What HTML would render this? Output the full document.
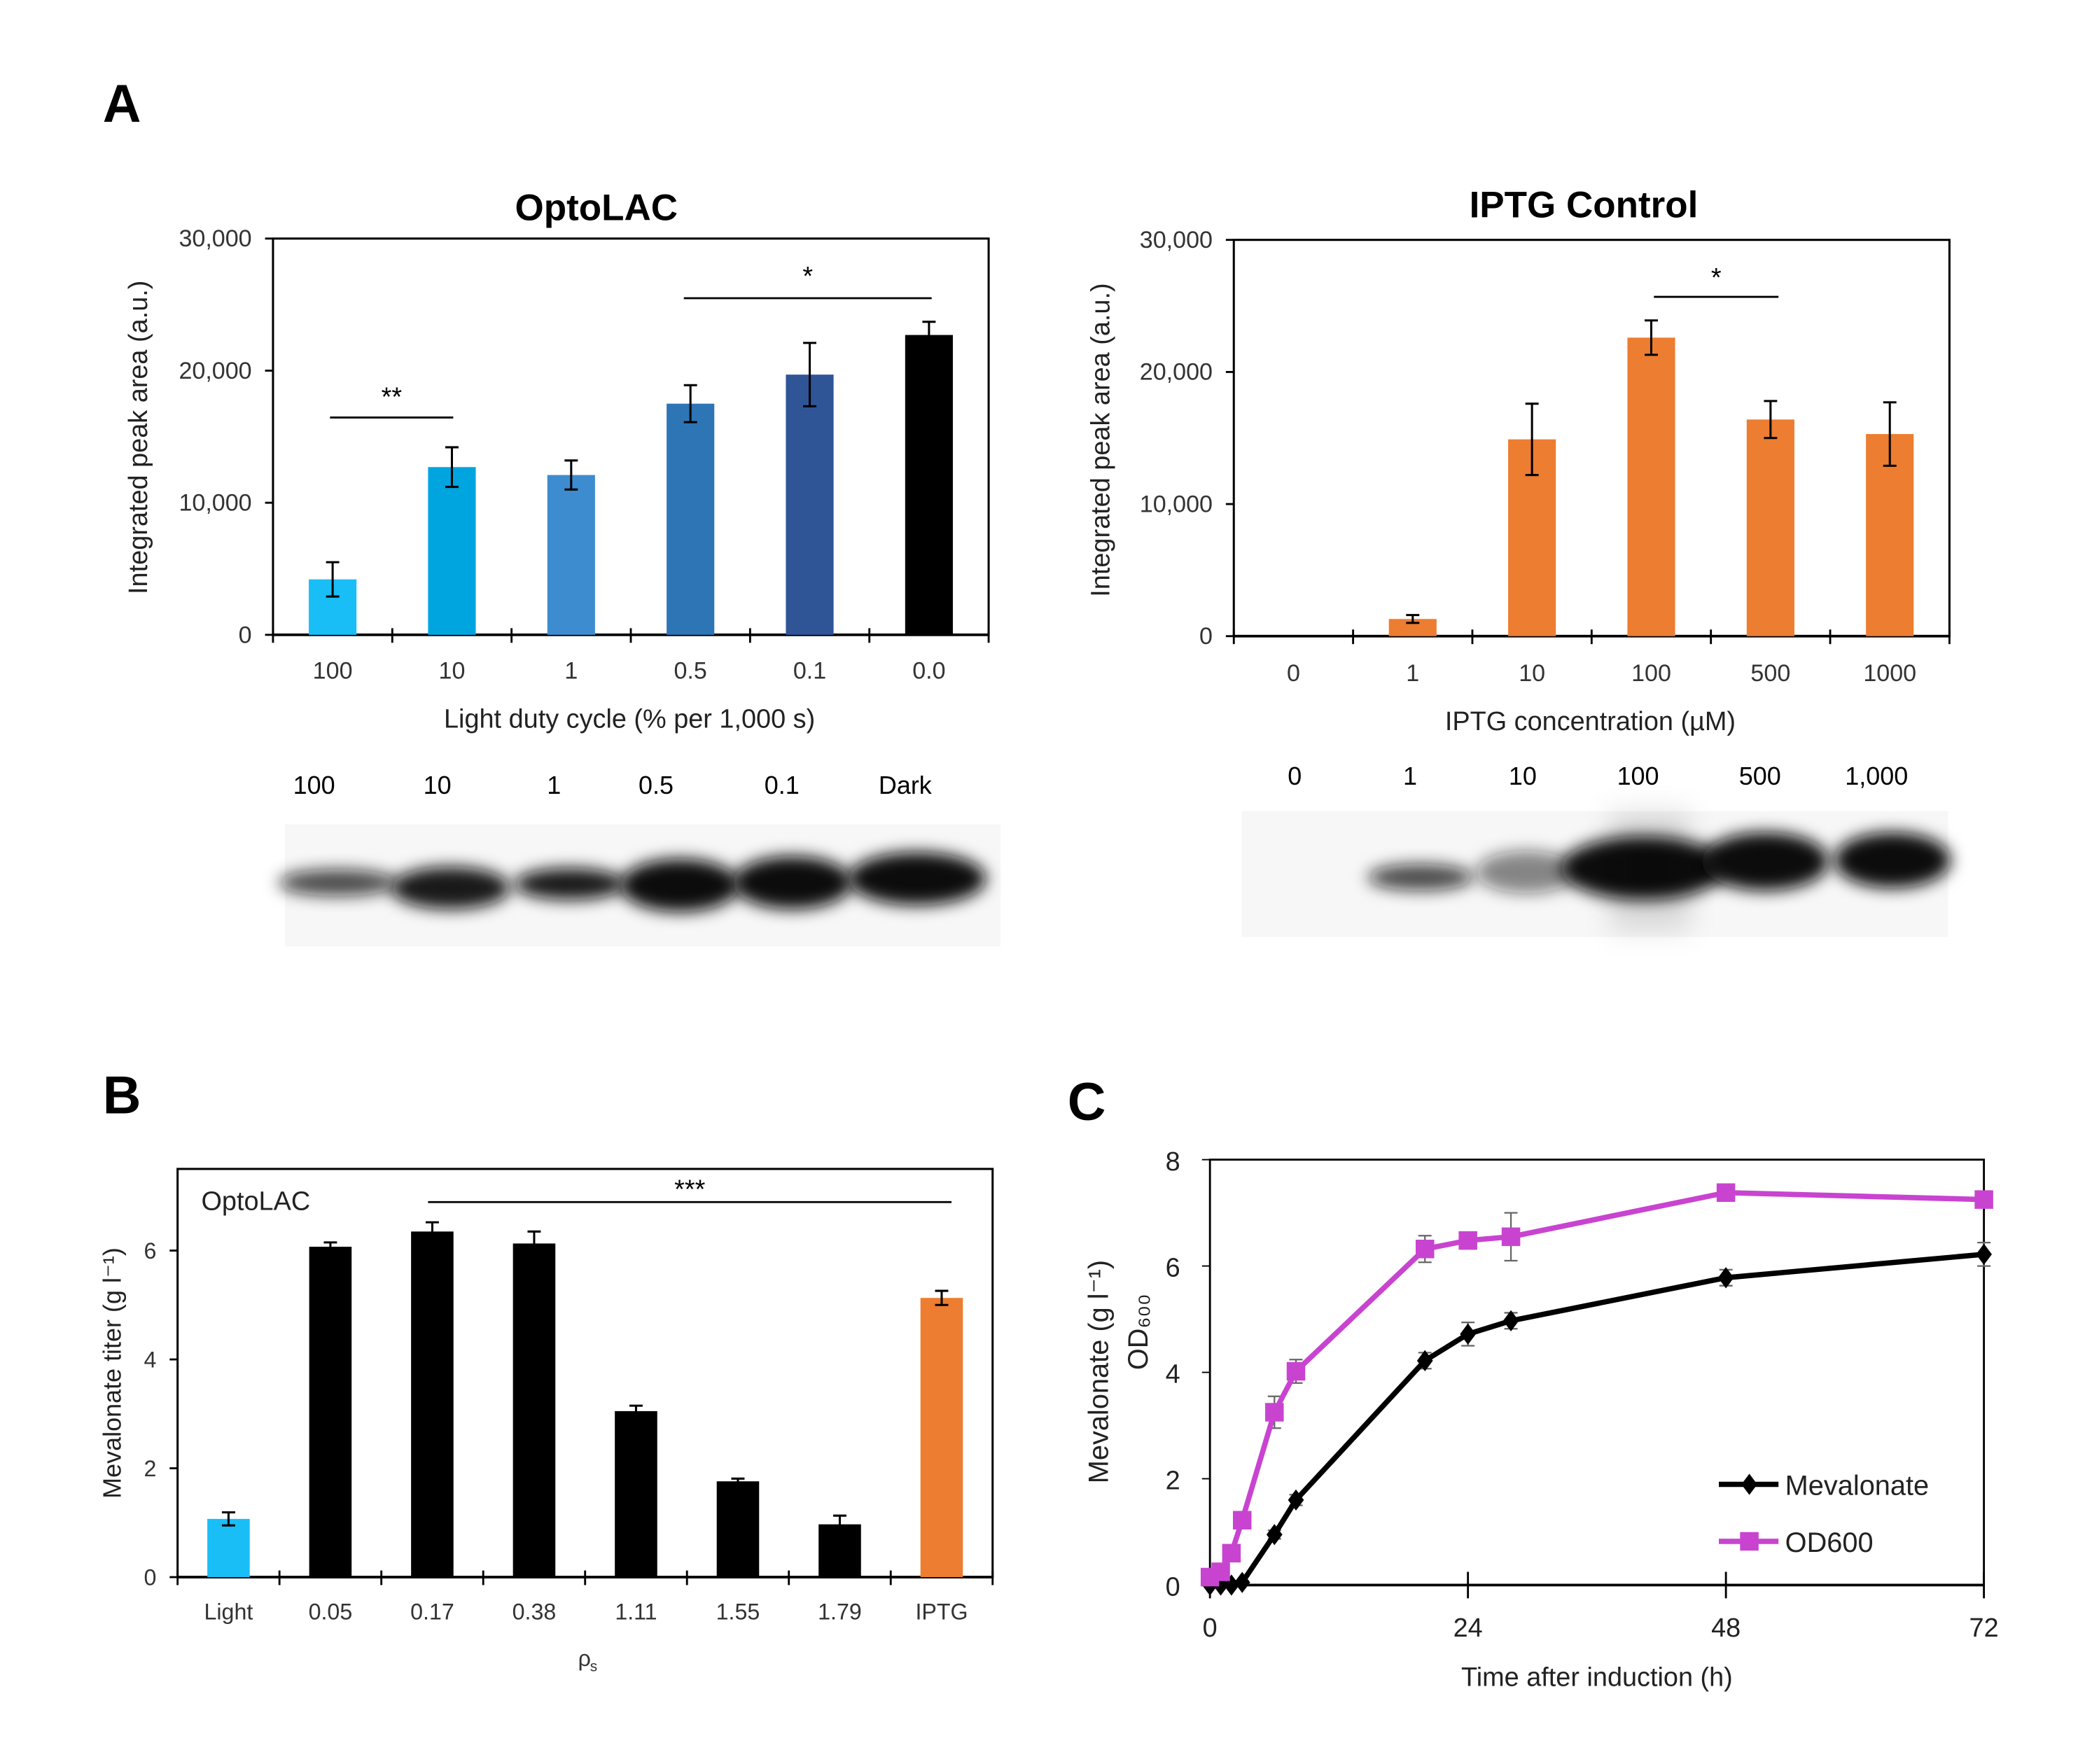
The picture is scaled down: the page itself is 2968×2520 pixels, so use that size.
<!DOCTYPE html>
<html><head><meta charset="utf-8"><style>
html,body{margin:0;padding:0;background:#fff;}
svg{display:block;font-family:"Liberation Sans",sans-serif;}
</style></head><body>
<svg id="fig" width="2968" height="2520" viewBox="0 0 1568 1331" preserveAspectRatio="none">
<defs>
<filter id="blur" x="-30%" y="-60%" width="160%" height="220%"><feGaussianBlur stdDeviation="6"/></filter>
<filter id="blur2" x="-30%" y="-60%" width="160%" height="220%"><feGaussianBlur stdDeviation="10"/></filter>
</defs>
<text x="92" y="92" font-size="40" font-weight="bold" text-anchor="middle">A</text>
<text x="92" y="840" font-size="40" font-weight="bold" text-anchor="middle">B</text>
<text x="820" y="845" font-size="40" font-weight="bold" text-anchor="middle">C</text>
<g id="optolac"></g>
<g id="iptg"></g>
<g id="blots"></g>
<g id="chartB"></g>
<g id="chartC"></g>
</svg>
<script>
// Panel A - OptoLAC
const optoCats = ["100","10","1","0.5","0.1","0.0"];
const optoVals = [4200,12700,12100,17500,19700,22700];
const optoErr = [1300,1500,1100,1400,2400,1000];
const optoColors = ["#1ABEF6","#00A5E0","#3E8CD0","#2E75B6","#2F5597","#000000"];
const areaTicks = [0,10000,20000,30000];
const areaTickLabels = ["0","10,000","20,000","30,000"];
// Panel A - IPTG
const iptgCats = ["0","1","10","100","500","1000"];
const iptgVals = [0,1300,14900,22600,16400,15300];
const iptgErr = [0,300,2700,1300,1400,2400];
// Blots
const blotLabelsL = ["100","10","1","0.5","0.1","Dark"];
const blotLabelsR = ["0","1","10","100","500","1,000"];
// Panel B
const bCats = ["Light","0.05","0.17","0.38","1.11","1.55","1.79","IPTG"];
const bVals = [1.07,6.07,6.35,6.13,3.05,1.76,0.97,5.13];
const bErr = [0.12,0.08,0.17,0.22,0.1,0.05,0.16,0.13];
const bColors = ["#1ABEF6","#000","#000","#000","#000","#000","#000","#ED7D31"];
const bTicks = [0,2,4,6];
// Panel C
const cTimes = [0,1,2,3,6,8,20,24,28,48,72];
const cMev = [0,0,0,0.05,0.95,1.6,4.22,4.72,4.97,5.78,6.22];
const cMevErr = [0,0,0,0.03,0.08,0.1,0.15,0.22,0.15,0.15,0.22];
const cOD = [0.15,0.25,0.6,1.22,3.25,4.02,6.32,6.48,6.55,7.38,7.25];
const cODErr = [0.05,0.05,0.08,0.1,0.3,0.22,0.25,0.12,0.45,0.05,0.05];
const cYTicks = [0,2,4,6,8];
const cXTicks = [0,24,48,72];

const NS="http://www.w3.org/2000/svg";
function mk(parent,tag,attrs,text){const e=document.createElementNS(NS,tag);for(const k in attrs)e.setAttribute(k,attrs[k]);if(text!==undefined)e.textContent=text;parent.appendChild(e);return e;}

function barChart(g,o){
  const {x0,x1,y0,y1,ymax,cats,vals,errs,colors,bw}=o;
  const n=cats.length, step=(x1-x0)/n;
  const xs=i=>x0+step*(i+0.5);
  const ys=v=>y1-(v/ymax)*(y1-y0);
  let r=mk(g,'rect',{x:x0,y:y0,width:x1-x0,height:y1-y0,fill:'none',stroke:'#000','stroke-width':1.6});
  
  o.ticks.forEach((t,i)=>{
    const y=ys(t);
    mk(g,'line',{x1:x0-6,x2:x0,y1:y,y2:y,stroke:'#000','stroke-width':1.5});
    const tl=mk(g,'text',{x:x0-16,y:y+6,'font-size':o.tfs,'text-anchor':'end',fill:'#333'},o.tickLabels[i]);
    
  });
  for(let i=0;i<=n;i++){const x=x0+step*i;mk(g,'line',{x1:x,x2:x,y1:y1-5,y2:y1+6,stroke:'#000','stroke-width':1.5});}
  mk(g,'line',{x1:x0,x2:x1,y1:y1,y2:y1,stroke:'#000','stroke-width':2});
  cats.forEach((c,i)=>{
    const x=xs(i);
    if(vals[i]>0){
      const b=mk(g,'rect',{x:x-bw/2,y:ys(vals[i]),width:bw,height:y1-ys(vals[i]),fill:colors[i]});
      
    }
    if(errs[i]>0){
      const e1=ys(vals[i]+errs[i]),e2=ys(vals[i]-errs[i]);
      const eb=mk(g,'path',{d:`M${x},${e1}V${e2}M${x-5},${e1}H${x+5}M${x-5},${e2}H${x+5}`,stroke:'#000','stroke-width':1.6,fill:'none'});
      
    }
    const l=mk(g,'text',{x:x,y:o.catY,'font-size':o.tfs,'text-anchor':'middle',fill:'#333'},c);
    
  });
  return {xs,ys};
}
function sig(g,xa,xb,y,label,ty){
  mk(g,'line',{x1:xa,x2:xb,y1:y,y2:y,stroke:'#000','stroke-width':1.5});
  const t=mk(g,'text',{x:(xa+xb)/2,y:ty,'font-size':20,'text-anchor':'middle'},label);
  
}
function txt(g,x,y,s,attrs,name){const t=mk(g,'text',Object.assign({x:x,y:y,'text-anchor':'middle'},attrs),s);return t;}

// OptoLAC
let g=document.getElementById('optolac');
let a=barChart(g,{x0:206,x1:746,y0:180,y1:479,ymax:30000,cats:optoCats,vals:optoVals,errs:optoErr,colors:optoColors,bw:36,ticks:areaTicks,tickLabels:areaTickLabels,tfs:18,catY:512});
txt(g,450,166,"OptoLAC",{'font-size':28,'font-weight':'bold'},'chart-title');
txt(g,475,549,"Light duty cycle (% per 1,000 s)",{'font-size':20,fill:'#222'},'x-axis-title');
txt(g,0,0,"Integrated peak area (a.u.)",{'font-size':20,fill:'#222',transform:'translate(111,330) rotate(-90)'},'y-axis-title');
sig(g,249,342,315,"**",306);sig(g,516,703,225,"*",215);

// IPTG
g=document.getElementById('iptg');
barChart(g,{x0:931,x1:1471,y0:181,y1:480,ymax:30000,cats:iptgCats,vals:iptgVals,errs:iptgErr,colors:iptgCats.map(()=>"#ED7D31"),bw:36,ticks:areaTicks,tickLabels:areaTickLabels,tfs:18,catY:514});
txt(g,1195,164,"IPTG Control",{'font-size':28,'font-weight':'bold'},'chart-title');
txt(g,1200,551,"IPTG concentration (µM)",{'font-size':20,fill:'#222'},'x-axis-title');
txt(g,0,0,"Integrated peak area (a.u.)",{'font-size':20,fill:'#222',transform:'translate(837,332) rotate(-90)'},'y-axis-title');
sig(g,1248,1342,224,"*",216);

// Blots
g=document.getElementById('blots');
const blx=[237,330,418,495,590,683], brx=[977,1064,1149,1236,1328,1416];
blotLabelsL.forEach((s,i)=>txt(g,blx[i],599,s,{'font-size':19},'blot-lane-label'));
blotLabelsR.forEach((s,i)=>txt(g,brx[i],592,s,{'font-size':19},'blot-lane-label'));
const bands=[[255,666,45,10,0.75],[340,670,45,16,0.95],[430,667,42,12,0.95],[513,668,45,20,1],[598,666,45,20,1],[692,663,52,20,1],
 [1072,662,40,10,0.75],[1152,658,38,16,0.5],[1240,655,62,24,1],[1332,650,48,22,1],[1428,649,44,21,1]];
bands.forEach(b=>{const e=mk(g,'ellipse',{cx:b[0],cy:b[1],rx:b[2],ry:b[3],fill:'#111','fill-opacity':b[4],filter:'url(#blur)'});});
mk(g,'rect',{x:1215,y:612,width:60,height:90,fill:'#000','fill-opacity':0.12,filter:'url(#blur2)'});
mk(g,'rect',{x:215,y:622,width:540,height:92,fill:'#000','fill-opacity':0.03});
mk(g,'rect',{x:937,y:612,width:533,height:95,fill:'#000','fill-opacity':0.03});

// Panel B
g=document.getElementById('chartB');
barChart(g,{x0:134,x1:749,y0:882,y1:1190,ymax:7.5,cats:bCats,vals:bVals,errs:bErr,colors:bColors,bw:32,ticks:bTicks,tickLabels:bTicks.map(String),tfs:17,catY:1222});
txt(g,193,913,"OptoLAC",{'font-size':20,fill:'#222'},'chart-inset-label');
sig(g,323,718,907,"***",904);
txt(g,441,1257,"ρ",{'font-size':17,fill:'#333'},'x-axis-title');
txt(g,448,1261,"s",{'font-size':11,fill:'#333'},'x-axis-title-subscript');
txt(g,0,0,"Mevalonate titer (g l⁻¹)",{'font-size':19,fill:'#222',transform:'translate(91,1036) rotate(-90)'},'y-axis-title');

// Panel C
g=document.getElementById('chartC');
const cx0=913,cx1=1497,cy0=875,cy1=1196;
const xsC=t=>cx0+t/72*(cx1-cx0), ysC=v=>cy1-v/8*(cy1-cy0);
mk(g,'rect',{x:cx0,y:cy0,width:cx1-cx0,height:cy1-cy0,fill:'none',stroke:'#000','stroke-width':1.5});
cYTicks.forEach(t=>{mk(g,'line',{x1:cx0-6,x2:cx0,y1:ysC(t),y2:ysC(t),stroke:'#000'});txt(g,885,ysC(t)+8,String(t),{'font-size':20,fill:'#222'},'y-tick-label');});
cXTicks.forEach(t=>{mk(g,'line',{x1:xsC(t),x2:xsC(t),y1:cy1-10,y2:cy1+10,stroke:'#000','stroke-width':1.5});txt(g,xsC(t),1235,String(t),{'font-size':20,fill:'#222'},'x-tick-label');});
mk(g,'line',{x1:cx0,x2:cx1,y1:cy1,y2:cy1,stroke:'#000','stroke-width':2});
txt(g,1205,1272,"Time after induction (h)",{'font-size':20,fill:'#222'},'x-axis-title');
txt(g,0,0,"Mevalonate (g l⁻¹)",{'font-size':21,fill:'#222',transform:'translate(836,1035) rotate(-90)'},'y-axis-title');
txt(g,0,0,"OD₆₀₀",{'font-size':21,fill:'#222',transform:'translate(866,1005) rotate(-90)'},'y-axis-title-2');
function series(vals,errs,color,shape,name){
  const pts=cTimes.map((t,i)=>[xsC(t),ysC(vals[i])]);
  cTimes.forEach((t,i)=>{if(errs[i]>0){const x=pts[i][0],e1=ysC(vals[i]+errs[i]),e2=ysC(vals[i]-errs[i]);mk(g,'path',{d:`M${x},${e1}V${e2}M${x-5},${e1}H${x+5}M${x-5},${e2}H${x+5}`,stroke:'#666','stroke-width':1.2,fill:'none'});}});
  const l=mk(g,'polyline',{points:pts.map(p=>p.join(',')).join(' '),fill:'none',stroke:color,'stroke-width':4});
  
  pts.forEach(p=>{
    let m;
    if(shape==='sq') m=mk(g,'rect',{x:p[0]-7,y:p[1]-7,width:14,height:14,fill:color});
    else m=mk(g,'path',{d:`M${p[0]},${p[1]-8}L${p[0]+6},${p[1]}L${p[0]},${p[1]+8}L${p[0]-6},${p[1]}Z`,fill:color});
    
  });
}
series(cMev,cMevErr,'#000','di','mevalonate');
series(cOD,cODErr,'#C844D0','sq','od600');
// legend
mk(g,'line',{x1:1297,x2:1342,y1:1120,y2:1120,stroke:'#000','stroke-width':4});
mk(g,'path',{d:'M1320,1112L1326,1120L1320,1128L1314,1120Z',fill:'#000'});
txt(g,1347,1128,"Mevalonate",{'font-size':21,'text-anchor':'start',fill:'#222'},'legend-entry-mevalonate');
mk(g,'line',{x1:1297,x2:1342,y1:1163,y2:1163,stroke:'#C844D0','stroke-width':4});
mk(g,'rect',{x:1313,y:1156,width:14,height:14,fill:'#C844D0'});
txt(g,1347,1171,"OD600",{'font-size':21,'text-anchor':'start',fill:'#222'},'legend-entry-od600');
</script>
</body></html>
